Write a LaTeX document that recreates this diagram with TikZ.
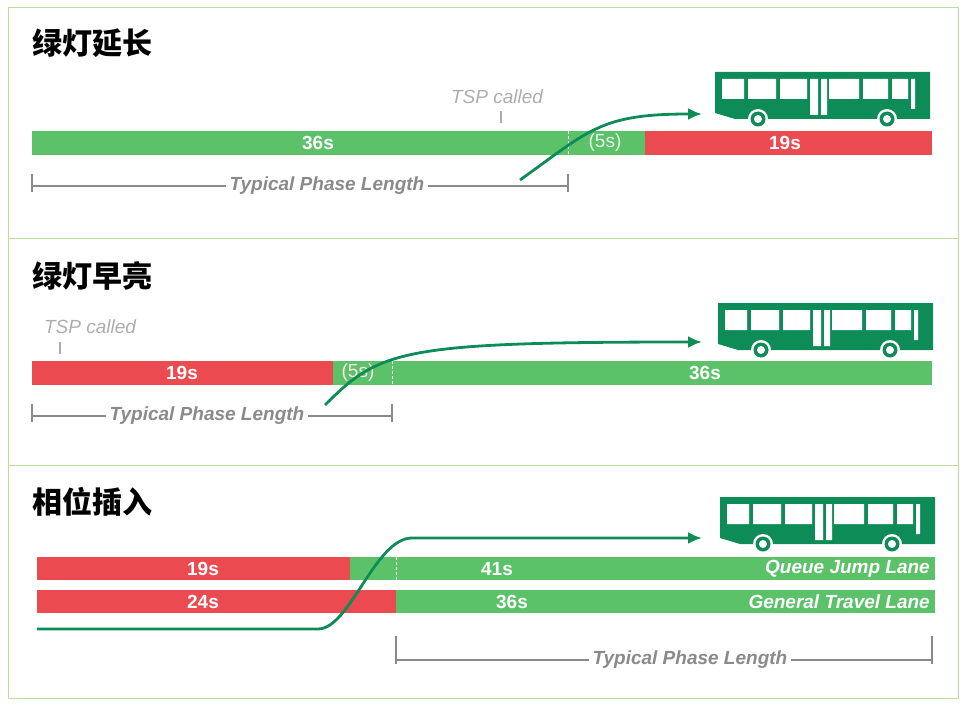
\documentclass[tikz,border=0pt]{standalone}
\usetikzlibrary{arrows.meta}
\usepackage{fontspec}
\setmainfont{Liberation Sans}
\newfontfamily\cjk{Noto Sans CJK SC}
\definecolor{gbar}{HTML}{5CC26A}
\definecolor{rbar}{HTML}{EB4A50}
\definecolor{busg}{HTML}{0E8C57}
\definecolor{frame}{HTML}{B9DFA0}
\definecolor{lab}{HTML}{8A8A8A}
\begin{document}
\begin{tikzpicture}[x=1pt,y=-1pt,
  title/.style={font=\cjk\bfseries\fontsize{30}{30}\selectfont, anchor=west, inner sep=0},
  barlab/.style={font=\bfseries\fontsize{19}{19}\selectfont, text=white, inner sep=0},
  tsp/.style={font=\itshape\fontsize{19}{19}\selectfont, text=lab!70, inner sep=0},
  tpl/.style={font=\bfseries\itshape\fontsize{19}{19}\selectfont, text=lab, fill=white, inner xsep=4pt, inner ysep=0},
  brk/.style={draw=lab, line width=1.3pt},
  trail/.style={draw=busg, line width=2.8pt, -{Latex[length=14pt,width=12pt]}},
  dsh/.style={draw=white, line width=0.8pt, dash pattern=on 3pt off 2pt},
  bus/.pic={
    \fill[busg] (0,0) -- (215,0) -- (215,47) -- (20,47) -- (0,41) -- cycle;
    \fill[white] (7,7) rectangle (29,27) (33,7) rectangle (61,27) (65,7) rectangle (92,27)
      (114,7) rectangle (144,27) (148,7) rectangle (173,27) (177,7) rectangle (193,27)
      (196,7) rectangle (200,37) (95,7) rectangle (103,43) (106,7) rectangle (112,43);
    \foreach \cx in {43,172}{\fill[white] (\cx,47) circle (10); \fill[busg] (\cx,47) circle (7.5); \fill[white] (\cx,47) circle (4);}
  }]
\useasboundingbox (0,0) rectangle (969,706);
\draw[frame, line width=1pt] (8,8) rectangle (958,698);
\draw[frame, line width=1pt] (8,238) -- (958,238) (8,465) -- (958,465);
% Panel 1
\node[title] (t1) at (32,43) {绿灯延长};
\fill[gbar] (32,131) rectangle (645,155);
\fill[rbar] (645,131) rectangle (932,155);
\draw[dsh] (568,131) -- (568,155);
\node[barlab] (a1) at (318,143) {36s};
\node[barlab, font=\fontsize{19}{19}\selectfont, text=white!85!gbar] (a2) at (605,143) {(5s)};
\node[barlab] (a3) at (785,143) {19s};
\node[tsp] (s1) at (497,97) {TSP called};
\draw[lab!70, line width=1.3pt] (501,111) -- (501,123);
\draw[brk] (32,174) -- (32,192) (32,186) -- (568,186) (568,174) -- (568,192);
\node[tpl] (p1) at (327,186) {Typical Phase Length};
\coordinate (c1s) at (520,180); \coordinate (c1e) at (702,114);
\draw[trail] (c1s) .. controls (590,130) and (600,114) .. (c1e);
\pic at (715,72) {bus};
% Panel 2
\node[title] (t2) at (32,276) {绿灯早亮};
\fill[rbar] (32,361) rectangle (333,385);
\fill[gbar] (333,361) rectangle (932,385);
\draw[dsh] (392,361) -- (392,385);
\node[barlab] (b1) at (182,373) {19s};
\node[barlab, font=\fontsize{19}{19}\selectfont, text=white!85!rbar] (b2) at (358,373) {(5s)};
\node[barlab] (b3) at (705,373) {36s};
\node[tsp] (s2) at (90,327) {TSP called};
\draw[lab!70, line width=1.3pt] (60,342) -- (60,354);
\draw[brk] (32,404) -- (32,422) (32,416) -- (392,416) (392,404) -- (392,422);
\node[tpl] (p2) at (207,416) {Typical Phase Length};
\coordinate (c2s) at (325,405); \coordinate (c2e) at (702,342);
\draw[trail] (c2s) .. controls (380,350) and (400,342) .. (c2e);
\pic at (718,303) {bus};
% Panel 3
\node[title] (t3) at (32,502) {相位插入};
\fill[rbar] (37,557) rectangle (350,580);
\fill[gbar] (350,557) rectangle (935,580);
\draw[dsh] (396,557) -- (396,580);
\fill[rbar] (37,590) rectangle (396,613);
\fill[gbar] (396,590) rectangle (935,613);
\node[barlab] (d1) at (203,569) {19s};
\node[barlab] (d2) at (497,569) {41s};
\node[barlab, font=\bfseries\itshape\fontsize{19}{19}\selectfont, anchor=east] (d3) at (930,569) {Queue Jump Lane};
\node[barlab] (e1) at (203,602) {24s};
\node[barlab] (e2) at (512,602) {36s};
\node[barlab, font=\bfseries\itshape\fontsize{19}{19}\selectfont, anchor=east] (e3) at (930,602) {General Travel Lane};
\coordinate (c3s) at (37,629); \coordinate (c3m) at (318,629); \coordinate (c3e) at (702,538);
\draw[trail] (c3s) -- (c3m) .. controls (350,629) and (375,538) .. (412,538) -- (c3e);
\pic at (720,497) {bus};
\draw[brk] (396,636) -- (396,664) (396,660) -- (932,660) (932,636) -- (932,664);
\node[tpl] (p3) at (690,660) {Typical Phase Length};
\end{tikzpicture}
\end{document}
